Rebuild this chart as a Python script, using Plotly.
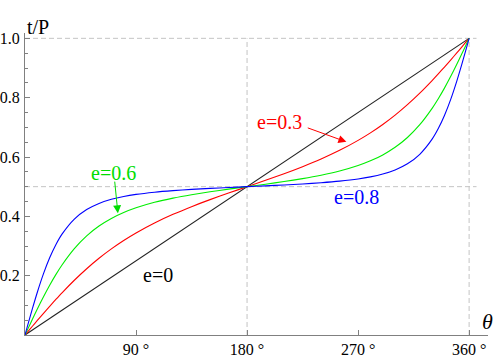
import plotly.graph_objects as go

# true anomaly (degrees) and fraction of period
theta = [0, 3, 6, 10, 15, 20, 25, 30, 40, 50, 60, 70, 80, 90, 105, 120, 135, 150, 165, 180,
         195, 210, 225, 240, 255, 270, 280, 290, 300, 310, 320, 330, 335, 340, 345, 350, 354, 357, 360]

tp_e03 = [0, 0.0148, 0.0295, 0.0490, 0.0731, 0.0968, 0.1198, 0.1422, 0.1846, 0.2234, 0.2586,
          0.2902, 0.3186, 0.3440, 0.3776, 0.4067, 0.4326, 0.4563, 0.4785, 0.5,
          0.5215, 0.5437, 0.5674, 0.5933, 0.6224, 0.6560, 0.6814, 0.7098, 0.7414, 0.7766,
          0.8154, 0.8578, 0.8802, 0.9032, 0.9269, 0.9510, 0.9705, 0.9852, 1.0]

tp_e06 = [0, 0.0266, 0.0530, 0.0876, 0.1290, 0.1678, 0.2036, 0.2361, 0.2912, 0.3342, 0.3673,
          0.3929, 0.4129, 0.4288, 0.4473, 0.4614, 0.4729, 0.4827, 0.4916, 0.5,
          0.5084, 0.5173, 0.5271, 0.5386, 0.5527, 0.5712, 0.5871, 0.6071, 0.6327, 0.6658,
          0.7088, 0.7639, 0.7964, 0.8322, 0.8710, 0.9124, 0.9470, 0.9734, 1.0]

tp_e08 = [0, 0.0448, 0.0887, 0.1442, 0.2067, 0.2601, 0.3042, 0.3399, 0.3908, 0.4229, 0.4436,
          0.4574, 0.4670, 0.4740, 0.4814, 0.4867, 0.4908, 0.4942, 0.4972, 0.5,
          0.5028, 0.5058, 0.5092, 0.5133, 0.5186, 0.5260, 0.5330, 0.5426, 0.5564, 0.5771,
          0.6092, 0.6601, 0.6958, 0.7399, 0.7933, 0.8558, 0.9113, 0.9552, 1.0]

theta_e0 = [0, 360]
tp_e0 = [0, 1]

x_ticks = [90, 180, 270, 360]
x_labels = ["90 °", "180 °", "270 °", "360 °"]
y_ticks = [0.2, 0.4, 0.6, 0.8, 1.0]
y_labels = ["0.2", "0.4", "0.6", "0.8", "1.0"]
y_minor = [0.05, 0.1, 0.15, 0.25, 0.3, 0.35, 0.45, 0.5, 0.55, 0.65, 0.7, 0.75, 0.85, 0.9, 0.95]

grid_x = [180, 360]
grid_y = [0.5, 1.0]

AXIS = "#808080"
GRID = "#c4c4c4"
SERIF = "Liberation Serif, Times New Roman, serif"

fig = go.Figure()

fig.add_trace(go.Scatter(x=theta_e0, y=tp_e0, mode="lines", line=dict(color="#222222", width=1.1)))
fig.add_trace(go.Scatter(x=theta, y=tp_e03, mode="lines", line=dict(color="#ff0000", width=1.1, shape="spline", smoothing=0.6)))
fig.add_trace(go.Scatter(x=theta, y=tp_e06, mode="lines", line=dict(color="#00ee00", width=1.1, shape="spline", smoothing=0.6)))
fig.add_trace(go.Scatter(x=theta, y=tp_e08, mode="lines", line=dict(color="#0000ff", width=1.1, shape="spline", smoothing=0.6)))

# dashed reference lines
for gy in grid_y:
    fig.add_shape(type="line", x0=0, x1=366, y0=gy, y1=gy, layer="below",
                  line=dict(color=GRID, width=1, dash="5px,3px"))
for gx in grid_x:
    fig.add_shape(type="line", x0=gx, x1=gx, y0=0, y1=1.0, layer="below",
                  line=dict(color=GRID, width=1, dash="5px,3px"))

# curve labels
fig.add_annotation(x=206, y=0.718, text="e=0.3", showarrow=False, font=dict(color="#ff0000", size=20))
fig.add_annotation(x=260.5, y=0.651, ax=228, ay=0.700, axref="x", ayref="y", text="",
                   showarrow=True, arrowhead=2, arrowsize=1.6, arrowwidth=1, arrowcolor="#ff0000")
fig.add_annotation(x=72, y=0.546, text="e=0.6", showarrow=False, font=dict(color="#00dd00", size=20))
fig.add_annotation(x=75.3, y=0.410, ax=72.6, ay=0.522, axref="x", ayref="y", text="",
                   showarrow=True, arrowhead=2, arrowsize=1.6, arrowwidth=1, arrowcolor="#00dd00")
fig.add_annotation(x=269, y=0.465, text="e=0.8", showarrow=False, font=dict(color="#0000ff", size=20))
fig.add_annotation(x=107.5, y=0.202, text="e=0", showarrow=False, font=dict(color="black", size=20))

# axis titles placed at the axis ends
fig.add_annotation(xref="paper", yref="paper", x=0, y=1.063, text="t/P",
                   showarrow=False, font=dict(size=20))
fig.add_annotation(xref="paper", yref="paper", x=1.015, y=-0.003, text="<i>θ</i>",
                   showarrow=False, font=dict(size=22))

fig.update_layout(
    width=500,
    height=359,
    margin=dict(l=25, r=12, t=33, b=24),
    plot_bgcolor="white",
    paper_bgcolor="white",
    showlegend=False,
    font=dict(family=SERIF, size=16, color="black"),
    xaxis=dict(
        range=[0, 375.3],
        showline=True, linecolor=AXIS, linewidth=1,
        ticks="inside", ticklen=5, tickcolor=AXIS,
        tickmode="array", tickvals=x_ticks, ticktext=x_labels,
        showgrid=False, zeroline=False, automargin=False,
    ),
    yaxis=dict(
        range=[0, 1.018],
        showline=True, linecolor=AXIS, linewidth=1,
        ticks="inside", ticklen=5, tickcolor=AXIS,
        tickmode="array", tickvals=y_ticks, ticktext=y_labels,
        ticklabelstandoff=1,
        minor=dict(tickmode="array", tickvals=y_minor, ticks="inside", ticklen=3,
                   tickcolor=AXIS, showgrid=False),
        showgrid=False, zeroline=False, automargin=False,
    ),
)

# page body has a default margin; drop it so the figure fills the window
fig.write_html("out.html", config={"displayModeBar": False},
               post_script="document.body.style.margin='0';")
